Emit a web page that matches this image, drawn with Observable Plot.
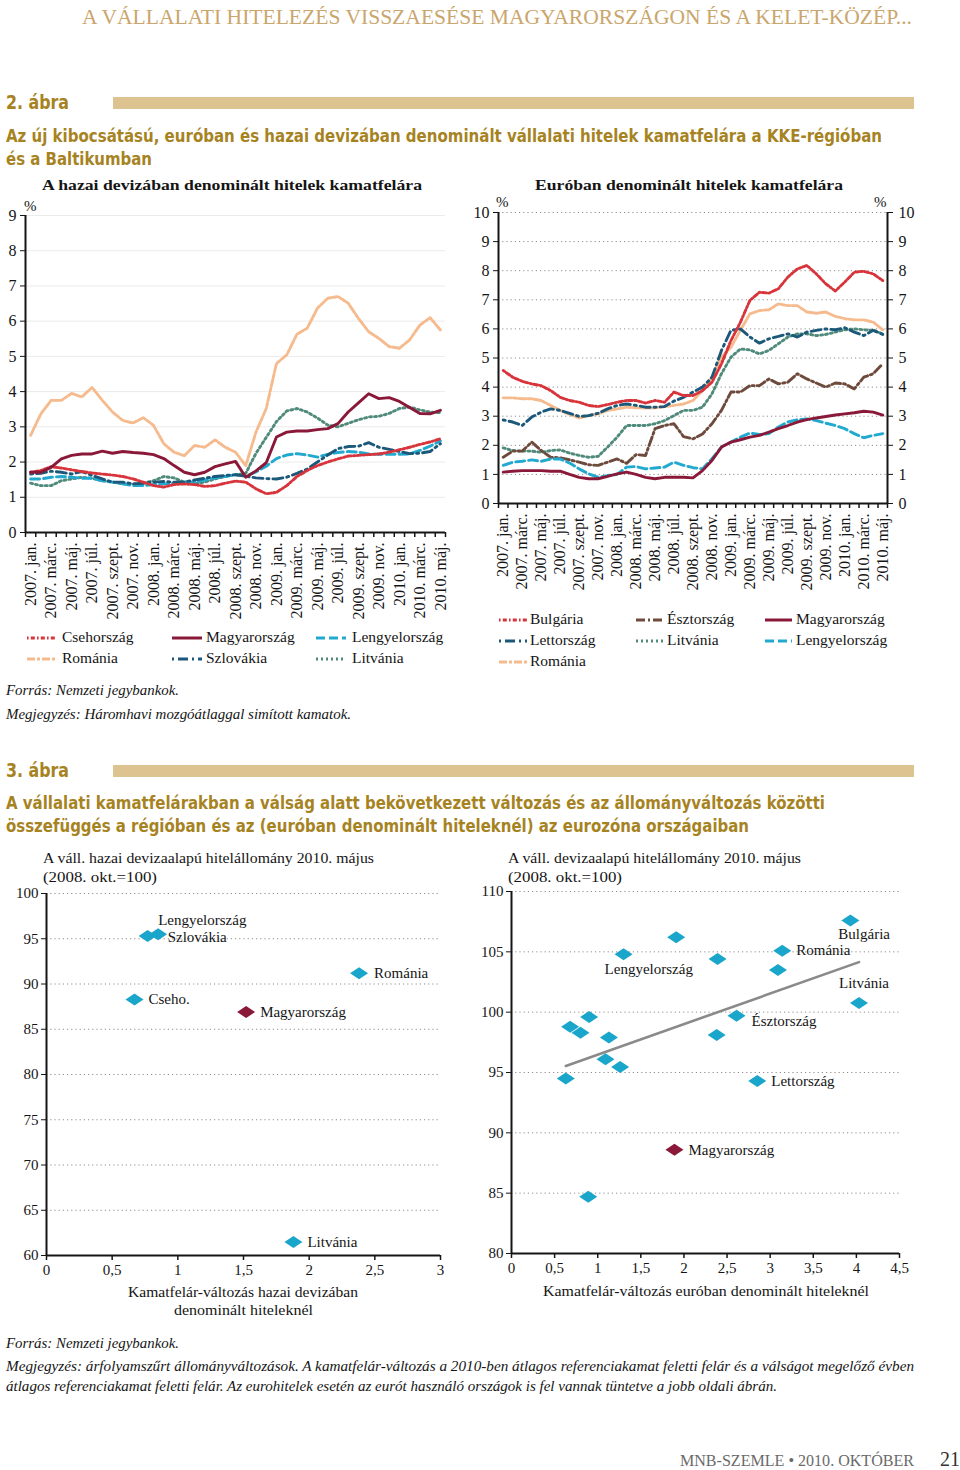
<!DOCTYPE html>
<html><head><meta charset="utf-8">
<script src="https://cdn.jsdelivr.net/npm/d3@7"></script>
<script src="https://cdn.jsdelivr.net/npm/@observablehq/plot@0.6"></script>
<style>
body{margin:0;background:#fff;}
#page{position:relative;width:960px;height:1470px;overflow:hidden;font-family:"Liberation Serif",serif;color:#151515;background:#fff;}
.abs{position:absolute;white-space:nowrap;line-height:1;}
.gold{color:#a6831f;font-family:"Liberation Sans Narrow","DejaVu Sans Condensed","Liberation Sans",sans-serif;font-weight:bold;}
.chart{position:absolute;}
.chart svg{overflow:visible;}
.it{font-style:italic;}
</style></head>
<body><div id="page"></div>
<script>
// ---------- DATA ----------
const tickLabels = ["2007. jan.","2007. márc.","2007. máj.","2007. júl.","2007. szept.","2007. nov.","2008. jan.","2008. márc.","2008. máj.","2008. júl.","2008. szept.","2008. nov.","2009. jan.","2009. márc.","2009. máj.","2009. júl.","2009. szept.","2009. nov.","2010. jan.","2010. márc.","2010. máj."];

// Chart 2, left: spreads on loans in domestic currency (%), monthly 2007 jan - 2010 máj
const hazaiCseh = [1.71,1.76,1.87,1.83,1.78,1.73,1.69,1.66,1.63,1.59,1.52,1.43,1.33,1.29,1.36,1.38,1.36,1.31,1.33,1.40,1.46,1.43,1.24,1.10,1.14,1.33,1.59,1.76,1.90,2.00,2.09,2.17,2.19,2.21,2.23,2.28,2.35,2.42,2.50,2.57,2.66];
const hazaiMagyar = [1.71,1.71,1.85,2.09,2.19,2.23,2.23,2.31,2.25,2.30,2.27,2.25,2.21,2.10,1.90,1.71,1.64,1.71,1.87,1.95,2.02,1.57,1.75,1.98,2.71,2.85,2.88,2.88,2.92,2.95,3.09,3.42,3.68,3.94,3.80,3.83,3.72,3.55,3.38,3.37,3.47];
const hazaiLengyel = [1.52,1.52,1.57,1.59,1.57,1.54,1.54,1.47,1.43,1.38,1.33,1.33,1.36,1.38,1.40,1.44,1.43,1.49,1.55,1.59,1.64,1.60,1.72,1.88,2.10,2.20,2.24,2.20,2.14,2.22,2.27,2.30,2.28,2.23,2.22,2.22,2.22,2.23,2.33,2.45,2.60];
const hazaiRoman = [2.76,3.37,3.75,3.75,3.95,3.85,4.12,3.75,3.42,3.18,3.11,3.26,3.04,2.52,2.28,2.18,2.47,2.42,2.63,2.42,2.28,1.90,2.85,3.52,4.80,5.04,5.63,5.80,6.37,6.65,6.70,6.51,6.08,5.70,5.51,5.28,5.23,5.47,5.89,6.10,5.75];
const hazaiSzlovak = [1.66,1.68,1.74,1.71,1.66,1.73,1.62,1.52,1.43,1.43,1.38,1.40,1.43,1.45,1.43,1.43,1.49,1.54,1.59,1.62,1.64,1.60,1.55,1.53,1.52,1.57,1.68,1.80,2.00,2.20,2.38,2.44,2.45,2.55,2.42,2.36,2.30,2.24,2.25,2.30,2.52];
const hazaiLitvan = [1.40,1.33,1.33,1.47,1.52,1.57,1.54,1.47,1.43,1.38,1.38,1.40,1.47,1.59,1.55,1.43,1.38,1.43,1.52,1.59,1.64,1.68,2.25,2.70,3.15,3.45,3.52,3.42,3.25,3.05,3.00,3.10,3.20,3.28,3.30,3.38,3.52,3.56,3.48,3.42,3.40];

// Chart 2, right: spreads on euro-denominated loans (%)
const euroBulgar = [4.57,4.34,4.20,4.11,4.05,3.88,3.65,3.54,3.48,3.37,3.33,3.40,3.48,3.54,3.54,3.45,3.54,3.48,3.83,3.71,3.71,3.88,4.17,4.80,5.60,6.23,6.98,7.26,7.23,7.38,7.78,8.06,8.18,7.89,7.55,7.30,7.61,7.95,7.98,7.89,7.66];
const euroEszt = [1.59,1.80,1.80,2.11,1.82,1.59,1.57,1.50,1.42,1.33,1.31,1.42,1.53,1.38,1.68,1.65,2.57,2.68,2.74,2.30,2.22,2.39,2.74,3.20,3.83,3.83,4.05,4.05,4.28,4.11,4.17,4.46,4.28,4.14,4.00,4.14,4.11,3.94,4.34,4.46,4.80];
const euroMagyar = [1.08,1.11,1.13,1.13,1.13,1.11,1.11,1.00,0.90,0.85,0.85,0.93,1.02,1.08,1.00,0.90,0.85,0.90,0.90,0.90,0.88,1.13,1.48,1.94,2.11,2.19,2.28,2.34,2.45,2.57,2.68,2.80,2.88,2.94,2.99,3.04,3.08,3.12,3.17,3.14,3.04];
const euroLett = [2.87,2.80,2.68,2.97,3.14,3.25,3.20,3.10,2.99,3.02,3.10,3.25,3.37,3.42,3.37,3.31,3.31,3.33,3.52,3.65,3.83,4.00,4.34,5.26,5.95,6.00,5.72,5.51,5.66,5.74,5.83,5.72,5.89,5.95,6.00,5.97,6.04,5.89,5.77,5.95,5.81];
const euroLitvan = [1.91,1.82,1.80,1.80,1.76,1.82,1.84,1.73,1.65,1.59,1.62,1.94,2.28,2.68,2.68,2.68,2.74,2.85,3.02,3.20,3.20,3.31,3.77,4.46,5.03,5.31,5.28,5.14,5.26,5.49,5.72,5.83,5.83,5.77,5.81,5.89,5.97,6.00,5.97,5.95,5.83];
const euroLengyel = [1.31,1.42,1.45,1.50,1.45,1.53,1.53,1.39,1.19,1.02,0.90,0.96,1.00,1.25,1.27,1.19,1.22,1.25,1.42,1.31,1.23,1.19,1.54,1.94,2.11,2.28,2.42,2.37,2.40,2.63,2.80,2.88,2.91,2.85,2.76,2.68,2.57,2.40,2.26,2.34,2.40];
const euroRoman = [3.63,3.63,3.60,3.60,3.54,3.37,3.20,3.06,2.94,3.02,3.08,3.20,3.25,3.31,3.29,3.28,3.29,3.33,3.37,3.42,3.54,3.88,4.34,5.03,5.37,5.95,6.52,6.63,6.66,6.86,6.80,6.80,6.58,6.54,6.58,6.43,6.35,6.31,6.31,6.23,5.97];

// Chart 3, left scatter
const hazaiNames = ["Lengyelország","Szlovákia","Románia","Cseho.","Magyarország","Litvánia"];
const hazaiDX = [0.85,0.77,2.38,0.67,1.52,1.88];
const hazaiDY = [95.5,95.3,91.2,88.3,86.9,61.5];
// Chart 3, right scatter
const euroNames = ["","","","","","","","Lengyelország","","","","Észtország","Lettország","","Románia","Bulgária","Litvánia","","Magyarország"];
const euroDX = [0.63,0.68,0.80,0.90,1.13,1.09,1.26,1.30,1.91,2.39,2.38,2.61,2.85,3.09,3.14,3.93,4.03,0.89,1.89];
const euroDY = [94.5,98.8,98.3,99.6,97.9,96.1,95.45,104.8,106.2,104.4,98.1,99.7,94.3,103.5,105.1,107.6,100.75,84.7,88.6];

// ---------- STYLES ----------
const ST = {
  red:    {stroke:"#d8343c", dash:"1.6,2.2,4,2.2"},
  hun:    {stroke:"#8a1838", dash:null},
  pol:    {stroke:"#22a9cf", dash:"9,4"},
  rom:    {stroke:"#f5bb8e", dash:"8,2,3,2"},
  blue:   {stroke:"#1b587a", dash:"2,4,10,4"},
  lit:    {stroke:"#4f8a7b", dash:"2,3"},
  est:    {stroke:"#6e4a3d", dash:"9,3,2,3"}
};
const page = document.getElementById("page");

function T(txt, x, cy, size, opts = {}) {
  const d = document.createElement("div");
  d.className = "abs " + (opts.cls || "");
  d.textContent = txt;
  d.style.left = x + "px";
  d.style.top = (cy - size * 0.55) + "px";
  d.style.fontSize = size + "px";
  if (opts.style) Object.assign(d.style, opts.style);
  page.appendChild(d);
  const w = d.getBoundingClientRect().width;
  if (opts.w) { d.style.transformOrigin = "0 0"; d.style.transform = `scaleX(${opts.w / w})`; }
  if (opts.cx !== undefined) { d.style.left = (opts.cx - (opts.w || w) / 2) + "px"; }
  return d;
}
function rect(x, y, w, h, color) {
  const d = document.createElement("div");
  Object.assign(d.style, {position:"absolute", left:x+"px", top:y+"px", width:w+"px", height:h+"px", background:color});
  page.appendChild(d);
}
function legendItem(name, st, x, cy, sw, tx) {
  const s = document.createElementNS("http://www.w3.org/2000/svg", "svg");
  s.setAttribute("width", sw + 2); s.setAttribute("height", 8);
  Object.assign(s.style, {position:"absolute", left:x+"px", top:(cy-4)+"px"});
  const l = document.createElementNS("http://www.w3.org/2000/svg", "line");
  l.setAttribute("x1", 0); l.setAttribute("x2", sw); l.setAttribute("y1", 4); l.setAttribute("y2", 4);
  l.setAttribute("stroke", st.stroke); l.setAttribute("stroke-width", 3);
  if (st.dash) l.setAttribute("stroke-dasharray", st.dash);
  s.appendChild(l); page.appendChild(s);
  T(name, tx, cy, 15.5);
}
function place(svg, left, top) {
  const d = document.createElement("div");
  d.className = "chart"; d.style.left = left + "px"; d.style.top = top + "px";
  d.appendChild(svg); page.appendChild(d);
}

// ---------- HEADINGS ----------
T("A VÁLLALATI HITELEZÉS VISSZAESÉSE MAGYARORSZÁGON ÉS A KELET-KÖZÉP...", 82, 19, 21, {w:830, style:{color:"#c9a66c"}});
T("2. ábra", 6, 103, 19, {cls:"gold", w:63});
rect(113, 97, 801, 12, "#dcc38f");
T("Az új kibocsátású, euróban és hazai devizában denominált vállalati hitelek kamatfelára a KKE-régióban", 6, 137, 18, {cls:"gold", w:876});
T("és a Baltikumban", 6, 160, 18, {cls:"gold", w:146});
T("A hazai devizában denominált hitelek kamatfelára", 42, 186, 15, {w:380, style:{fontWeight:"bold"}});
T("Euróban denominált hitelek kamatfelára", 535, 186, 15, {w:308, style:{fontWeight:"bold"}});
T("%", 24, 207, 15);
T("%", 496, 203, 15);
T("%", 874, 203, 15);

// ---------- LINE CHARTS ----------
function lineChart(series, ymax, W, H, m, grid, rightAxis) {
  const yt = d3.range(0, ymax + 1);
  const marks = [];
  if (grid === "solid") marks.push(Plot.gridY(yt.slice(1), {stroke:"#ebebeb", strokeOpacity:1}));
  else marks.push(Plot.gridY(yt.slice(1), {stroke:"#8d8d8d", strokeOpacity:1, strokeDasharray:"1.2,3"}));
  marks.push(Plot.axisY(yt, {anchor:"left", tickSize:5, tickPadding:4, fontSize:16, label:null}));
  if (rightAxis) marks.push(Plot.axisY(yt, {anchor:"right", tickSize:5, tickPadding:6, fontSize:16, label:null}));
  marks.push(Plot.axisX(d3.range(-0.5, 41, 1), {tickSize:5, tickFormat:() => "", label:null, strokeWidth:1.5}));
  marks.push(Plot.axisX(d3.range(0, 41, 2), {tickSize:0, tickPadding:10, tickRotate:-90, fontSize:16, label:null, tickFormat:i => tickLabels[i / 2]}));
  for (const s of series) {
    marks.push(Plot.line(s.values.map((v, i) => ({i, v})), {x:"i", y:"v", stroke:s.st.stroke, strokeWidth:2.9, strokeDasharray:s.st.dash || undefined}));
  }
  marks.push(Plot.ruleX([-0.5], {stroke:"#151515", strokeWidth:2}));
  if (rightAxis) marks.push(Plot.ruleX([40.5], {stroke:"#151515", strokeWidth:2}));
  marks.push(Plot.ruleY([0], {stroke:"#151515", strokeWidth:2}));
  return Plot.plot({
    width:W, height:H, marginTop:m[0], marginRight:m[1], marginBottom:m[2], marginLeft:m[3],
    x:{domain:[-0.5, 40.5], axis:null}, y:{domain:[0, ymax], axis:null},
    style:{fontFamily:"Liberation Serif", color:"#151515", background:"transparent"},
    marks
  });
}

place(lineChart([
  {values:hazaiRoman, st:ST.rom},
  {values:hazaiLitvan, st:ST.lit},
  {values:hazaiLengyel, st:ST.pol},
  {values:hazaiSzlovak, st:ST.blue},
  {values:hazaiCseh, st:ST.red},
  {values:hazaiMagyar, st:ST.hun}
], 9, 460, 430, [20, 15, 93, 25], "solid", false), 0, 195);

place(lineChart([
  {values:euroLitvan, st:ST.lit},
  {values:euroRoman, st:ST.rom},
  {values:euroLett, st:ST.blue},
  {values:euroEszt, st:ST.est},
  {values:euroLengyel, st:ST.pol},
  {values:euroMagyar, st:ST.hun},
  {values:euroBulgar, st:ST.red}
], 10, 490, 410, [17, 73, 102, 28], "dotted", true), 470, 195);

// legends
legendItem("Csehország", ST.red, 27, 638, 28, 62);
legendItem("Magyarország", ST.hun, 172, 638, 30, 206);
legendItem("Lengyelország", ST.pol, 316, 638, 30, 352);
legendItem("Románia", ST.rom, 27, 659, 28, 62);
legendItem("Szlovákia", ST.blue, 172, 659, 30, 206);
legendItem("Litvánia", ST.lit, 316, 659, 30, 352);

legendItem("Bulgária", ST.red, 499, 620, 28, 530);
legendItem("Észtország", ST.est, 636, 620, 27, 667);
legendItem("Magyarország", ST.hun, 765, 620, 27, 796);
legendItem("Lettország", ST.blue, 499, 641, 28, 530);
legendItem("Litvánia", ST.lit, 636, 641, 27, 667);
legendItem("Lengyelország", ST.pol, 765, 641, 27, 796);
legendItem("Románia", ST.rom, 499, 662, 28, 530);

T("Forrás: Nemzeti jegybankok.", 6, 691, 14.5, {cls:"it", w:173});
T("Megjegyzés: Háromhavi mozgóátlaggal simított kamatok.", 6, 715, 14.5, {cls:"it", w:345});

// ---------- CHART 3 ----------
T("3. ábra", 6, 771, 19, {cls:"gold", w:63});
rect(113, 765, 801, 12, "#dcc38f");
T("A vállalati kamatfelárakban a válság alatt bekövetkezett változás és az állományváltozás közötti", 6, 804, 18, {cls:"gold", w:819});
T("összefüggés a régióban és az (euróban denominált hiteleknél) az eurozóna országaiban", 6, 827, 18, {cls:"gold", w:743});

T("A váll. hazai devizaalapú hitelállomány 2010. május", 43, 859, 15, {w:331});
T("(2008. okt.=100)", 43, 878, 15, {w:114});
T("A váll. devizaalapú hitelállomány 2010. május", 508, 859, 15, {w:293});
T("(2008. okt.=100)", 508, 878, 15, {w:114});

const wideDiamond = {draw(ctx, size) {
  const s = Math.sqrt(size / Math.PI);
  ctx.moveTo(-1.5 * s, 0); ctx.lineTo(0, -s); ctx.lineTo(1.5 * s, 0); ctx.lineTo(0, s); ctx.closePath();
}};
const comma = d => String(d).replace(".", ",");

function scatter(names, xs, ys, xmax, ymin, ymax, W, H, m, labelCfg, trend) {
  const rows = names.map((n, i) => ({name:n, x:xs[i], y:ys[i]}));
  const yt = d3.range(ymin, ymax + 0.1, 5);
  const marks = [
    Plot.gridY(yt.slice(1), {stroke:"#8d8d8d", strokeOpacity:1, strokeDasharray:"1.2,3"}),
    Plot.axisY(yt, {anchor:"left", tickSize:5, tickPadding:3, fontSize:15, label:null}),
    Plot.axisX(d3.range(0, xmax + 0.01, 0.5), {tickSize:5, tickPadding:4, fontSize:15, label:null, tickFormat:comma, strokeWidth:1.5}),
    Plot.ruleX([0], {stroke:"#151515", strokeWidth:2}),
    Plot.ruleY([ymin], {stroke:"#151515", strokeWidth:2})
  ];
  if (trend) marks.push(Plot.linearRegressionY(rows, {x:"x", y:"y", stroke:"#8a8a8a", strokeWidth:2.6, ci:0}));
  marks.push(Plot.dot(rows.filter(d => d.name !== "Magyarország"), {x:"x", y:"y", r:6, symbol:wideDiamond, fill:"#1aa6cb", stroke:"none"}));
  marks.push(Plot.dot(rows.filter(d => d.name === "Magyarország"), {x:"x", y:"y", r:6, symbol:wideDiamond, fill:"#8a1838", stroke:"none"}));
  for (const [name, [dx, dy]] of Object.entries(labelCfg)) {
    marks.push(Plot.text(rows.filter(d => d.name === name), {x:"x", y:"y", text:"name", dx, dy, textAnchor:"start", fontSize:15, fill:"#151515"}));
  }
  return Plot.plot({
    width:W, height:H, marginTop:m[0], marginRight:m[1], marginBottom:m[2], marginLeft:m[3],
    x:{domain:[0, xmax], axis:null}, y:{domain:[ymin, ymax], axis:null},
    style:{fontFamily:"Liberation Serif", color:"#151515", background:"transparent"},
    marks
  });
}

place(scatter(hazaiNames, hazaiDX, hazaiDY, 3, 60, 100, 470, 445, [13, 30, 70, 46], {
  "Lengyelország":[0, -14], "Szlovákia":[20, 1], "Románia":[15, 0], "Cseho.":[14, 0], "Magyarország":[14, 0], "Litvánia":[14, 0]
}, false), 0, 880);

place(scatter(euroNames, euroDX, euroDY, 4.5, 80, 110, 490, 420, [11, 61, 47, 41], {
  "Lengyelország":[-19, 15], "Bulgária":[-12, 14], "Románia":[14, 0], "Litvánia":[-20, -20], "Észtország":[15, 5], "Lettország":[14, 0], "Magyarország":[14, 0]
}, true), 470, 880);

T("Kamatfelár-változás hazai devizában", 0, 1293, 15, {w:230, cx:243});
T("denominált hiteleknél", 0, 1311, 15, {w:139, cx:243});
T("Kamatfelár-változás euróban denominált hiteleknél", 0, 1292, 15, {w:326, cx:706});

T("Forrás: Nemzeti jegybankok.", 6, 1344, 14.5, {cls:"it", w:173});
T("Megjegyzés: árfolyamszűrt állományváltozások. A kamatfelár-változás a 2010-ben átlagos referenciakamat feletti felár és a válságot megelőző évben", 6, 1367, 14.5, {cls:"it", w:908});
T("átlagos referenciakamat feletti felár. Az eurohitelek esetén az eurót használó országok is fel vannak tüntetve a jobb oldali ábrán.", 6, 1387, 14.5, {cls:"it", w:771});

T("MNB-SZEMLE • 2010. OKTÓBER", 680, 1462, 16, {w:234, style:{color:"#6a6a6a"}});
T("21", 940, 1460, 22, {w:20, style:{color:"#333"}});
</script>
</body></html>
